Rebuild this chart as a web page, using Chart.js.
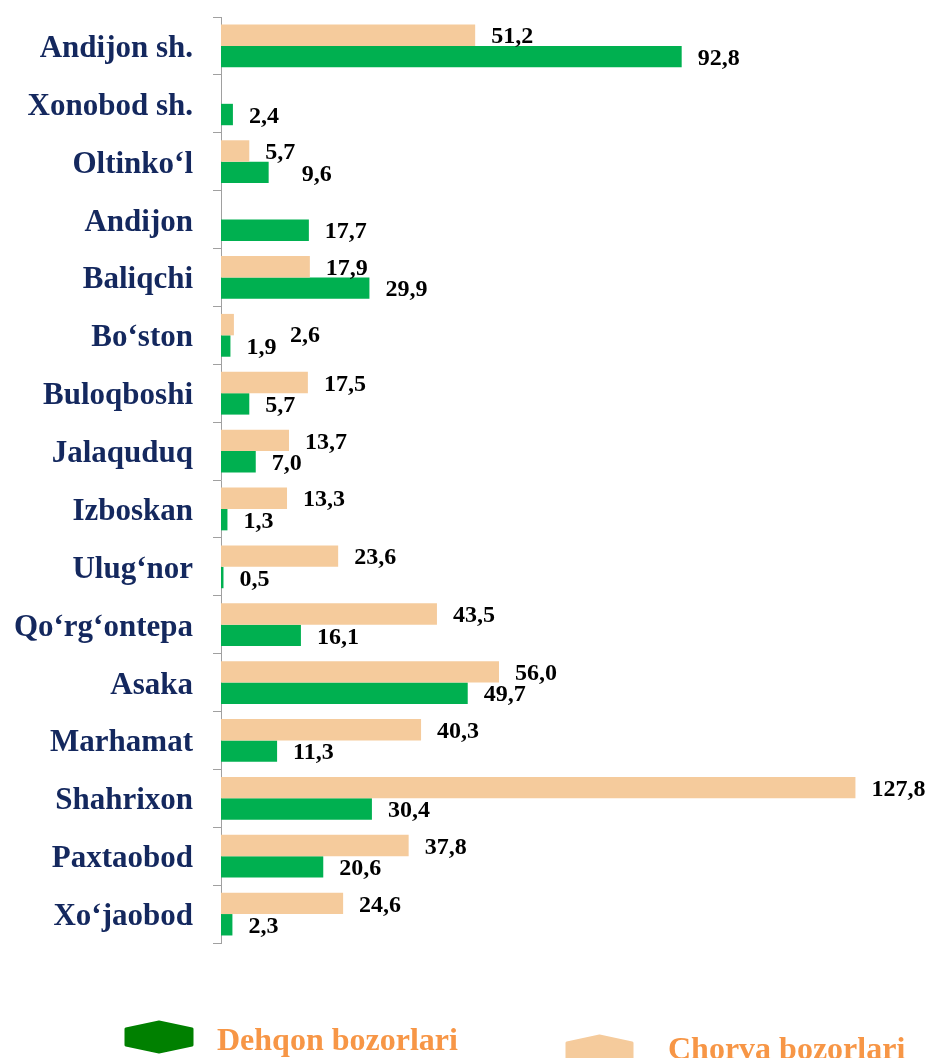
<!DOCTYPE html>
<html>
<head>
<meta charset="utf-8">
<title>Bozorlar</title>
<script src="https://cdn.jsdelivr.net/npm/chart.js@4.4.1/dist/chart.umd.min.js"></script>
<style>
  html, body { margin: 0; padding: 0; background: #fff; }
  #wrap { width: 928px; height: 1058px; position: relative; }
</style>
</head>
<body>
<div id="wrap"><canvas id="bozor"></canvas></div>
<script>
// categories (districts)
const tumanlar = [
  "Andijon sh.", "Xonobod sh.", "Oltinko\u2018l", "Andijon", "Baliqchi",
  "Bo\u2018ston", "Buloqboshi", "Jalaquduq", "Izboskan", "Ulug\u2018nor",
  "Qo\u2018rg\u2018ontepa", "Asaka", "Marhamat", "Shahrixon", "Paxtaobod", "Xo\u2018jaobod"
];
// series values
const chorva = [51.2, null, 5.7, null, 17.9, 2.6, 17.5, 13.7, 13.3, 23.6, 43.5, 56.0, 40.3, 127.8, 37.8, 24.6];
const dehqon = [92.8, 2.4, 9.6, 17.7, 29.9, 1.9, 5.7, 7.0, 1.3, 0.5, 16.1, 49.7, 11.3, 30.4, 20.6, 2.3];

const seriesNames = { dehqon: "Dehqon bozorlari", chorva: "Chorva bozorlari" };

// a few labels were moved by hand in the original
const labelNudge = { "0-5": [40, 9], "1-2": [17, 0] };

const serif = "'Liberation Serif', 'Times New Roman', serif";

function fmt(v) {
  return v.toFixed(1).replace(".", ",");
}

// value labels at the end of each bar
const valueLabels = {
  id: "valueLabels",
  afterDatasetsDraw(chart) {
    const ctx = chart.ctx;
    ctx.save();
    ctx.font = "bold 24px " + serif;
    ctx.fillStyle = "#000";
    ctx.textAlign = "left";
    ctx.textBaseline = "middle";
    chart.data.datasets.forEach((ds, di) => {
      chart.getDatasetMeta(di).data.forEach((bar, i) => {
        const v = ds.data[i];
        if (v == null) return;
        const n = labelNudge[di + "-" + i] || [0, 0];
        ctx.fillText(fmt(v), bar.x + 16 + n[0], bar.y + 2 + n[1]);
      });
    });
    ctx.restore();
  }
};

function hexagon(ctx, x0, y0, w, h, color) {
  const s = 7;
  ctx.beginPath();
  ctx.moveTo(x0, y0 + s);
  ctx.lineTo(x0 + w / 2, y0);
  ctx.lineTo(x0 + w, y0 + s);
  ctx.lineTo(x0 + w, y0 + h - s);
  ctx.lineTo(x0 + w / 2, y0 + h);
  ctx.lineTo(x0, y0 + h - s);
  ctx.closePath();
  ctx.fillStyle = color;
  ctx.lineJoin = "round";
  ctx.lineWidth = 3;
  ctx.strokeStyle = color;
  ctx.fill();
  ctx.stroke();
}

// legend at the bottom, drawn by hand
const bottomLegend = {
  id: "bottomLegend",
  afterDraw(chart) {
    const ctx = chart.ctx;
    ctx.save();
    hexagon(ctx, 126, 1022, 66, 30, "#008000");
    hexagon(ctx, 567, 1036, 65, 30, "#F5CB9C");
    ctx.font = "bold 32px " + serif;
    ctx.fillStyle = "#F79646";
    ctx.textAlign = "left";
    ctx.textBaseline = "alphabetic";
    ctx.fillText(seriesNames.dehqon, 217, 1050);
    ctx.fillText(seriesNames.chorva, 668, 1059);
    ctx.restore();
  }
};

let barChart = new Chart(document.getElementById("bozor"), {
  type: "bar",
  data: {
    labels: tumanlar,
    datasets: [
      {
        label: seriesNames.chorva,
        data: chorva,
        backgroundColor: "#F5CB9C",
        categoryPercentage: 0.74,
        barPercentage: 1.0
      },
      {
        label: seriesNames.dehqon,
        data: dehqon,
        backgroundColor: "#00B050",
        categoryPercentage: 0.74,
        barPercentage: 1.0
      }
    ]
  },
  options: {
    indexAxis: "y",
    responsive: true,
    maintainAspectRatio: false,
    animation: false,
    layout: { padding: { top: 17, bottom: 115, left: 0, right: 12 } },
    plugins: {
      legend: { display: false },
      tooltip: { enabled: false }
    },
    scales: {
      x: {
        display: false,
        min: 0,
        max: 140
      },
      y: {
        afterFit(scale) {
          scale.width = 221;
          scale.paddingTop = 0;
          scale.paddingBottom = 0;
        },
        grid: {
          display: true,
          drawOnChartArea: false,
          drawTicks: true,
          tickLength: 8,
          color: "#A0A0A0",
          offset: true
        },
        border: { display: true, color: "#A0A0A0" },
        ticks: {
          color: "#14285E",
          padding: 20,
          labelOffset: 3,
          font: { family: serif, size: 31, weight: "bold" }
        }
      }
    }
  },
  plugins: [valueLabels, bottomLegend]
});
</script>
</body>
</html>
